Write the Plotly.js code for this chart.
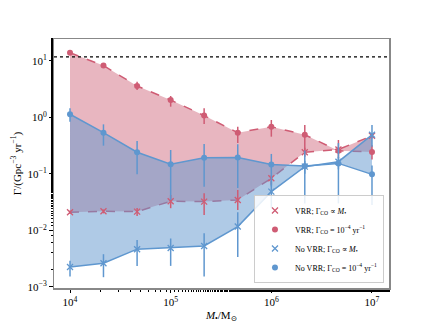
<!DOCTYPE html>
<html>
<head>
<meta charset="utf-8">
<script src="https://cdn.plot.ly/plotly-3.0.1.min.js"></script>
<style>
  html, body { margin: 0; padding: 0; background: #fff; }
  #chart { width: 432px; height: 324px; }
</style>
</head>
<body>
<div id="chart"></div>
<script>
// black hole masses (M_sun)
const masses = [1e4, 2.15e4, 4.64e4, 1e5, 2.15e5, 4.64e5, 1e6, 2.15e6, 4.64e6, 1e7];

// VRR; rate proportional to M
const vrrProp = [0.021, 0.0218, 0.0215, 0.0328, 0.0323, 0.0346, 0.0835, 0.241, 0.27, 0.47];
const vrrPropHi = [0.0225, 0.0235, 0.025, 0.0424, 0.0454, 0.052, 0.095, 0.29, 0.3, 0.52];
const vrrPropLo = [0.0195, 0.020, 0.018, 0.0247, 0.0188, 0.023, 0.064, 0.2, 0.24, 0.42];

// VRR; rate = 1e-4 / yr
const vrrConst = [13.8, 8.2, 3.57, 2.02, 1.07, 0.535, 0.68, 0.49, 0.255, 0.244];
const vrrConstHi = [15.0, 8.8, 4.26, 2.38, 1.44, 0.68, 0.895, 0.73, 0.397, 0.32];
const vrrConstLo = [12.7, 7.6, 3.03, 1.54, 0.76, 0.35, 0.454, 0.244, 0.189, 0.18];

// No VRR; rate proportional to M
const noProp = [0.00226, 0.00263, 0.00466, 0.0049, 0.0053, 0.0117, 0.0485, 0.134, 0.164, 0.49];
const noPropHi = [0.0029, 0.0038, 0.0068, 0.0072, 0.0089, 0.021, 0.075, 0.17, 0.2, 0.73];
const noPropLo = [0.00153, 0.00149, 0.00236, 0.00236, 0.00153, 0.0034, 0.025, 0.1, 0.12, 0.3];

// No VRR; rate = 1e-4 / yr
const noConst = [1.13, 0.535, 0.241, 0.148, 0.193, 0.195, 0.147, 0.138, 0.153, 0.098];
const noConstHi = [1.44, 0.75, 0.381, 0.264, 0.337, 0.335, 0.225, 0.26, 0.35, 0.14];
const noConstLo = [0.835, 0.315, 0.098, 0.0346, 0.059, 0.056, 0.06, 0.03, 0.03, 0.028];

const refLevel = 11.7;

const red = '#cf5c74';
const blue = '#5f97cf';
const font = 'Liberation Serif, DejaVu Serif, serif';

function errBar(vals, hi, lo, color) {
    return {
        type: 'data',
        symmetric: false,
        array: vals.map((v, i) => hi[i] - v),
        arrayminus: vals.map((v, i) => v - lo[i]),
        color: color,
        thickness: 1.5,
        width: 0
    };
}

function lineTrace(vals, color, dash, fill, fillcolor) {
    const t = {
        x: masses, y: vals, type: 'scatter', mode: 'lines',
        line: {color: color, width: 1.5, dash: dash},
        showlegend: false, hoverinfo: 'skip'
    };
    if (fill) { t.fill = fill; t.fillcolor = fillcolor; }
    return t;
}

function pointTrace(vals, hi, lo, color, symbol, name) {
    return {
        x: masses, y: vals, type: 'scatter', mode: 'markers', name: name,
        marker: symbol === 'x-thin'
            ? {symbol: 'x-thin', size: 6, color: color, line: {color: color, width: 1.3}}
            : {symbol: 'circle', size: 6, color: color},
        error_y: errBar(vals, hi, lo, color)
    };
}

const traces = [
    lineTrace(vrrProp, red, 'dash'),
    lineTrace(vrrConst, red, 'dash', 'tonexty', 'rgba(205,93,115,0.45)'),
    lineTrace(noProp, blue, 'solid'),
    lineTrace(noConst, blue, 'solid', 'tonexty', 'rgba(95,150,205,0.5)'),
    pointTrace(vrrProp, vrrPropHi, vrrPropLo, red, 'x-thin', 'VRR; Γ<sub>CO</sub> ∝ <i>M</i><sub>•</sub>'),
    pointTrace(vrrConst, vrrConstHi, vrrConstLo, red, 'circle', 'VRR; Γ<sub>CO</sub> = 10<sup>−4</sup> yr<sup>−1</sup>'),
    pointTrace(noProp, noPropHi, noPropLo, blue, 'x-thin', 'No VRR; Γ<sub>CO</sub> ∝ <i>M</i><sub>•</sub>'),
    pointTrace(noConst, noConstHi, noConstLo, blue, 'circle', 'No VRR; Γ<sub>CO</sub> = 10<sup>−4</sup> yr<sup>−1</sup>')
];

const layout = {
    width: 432, height: 324,
    margin: {l: 54, r: 43, t: 39, b: 36},
    paper_bgcolor: '#fff', plot_bgcolor: '#fff',
    font: {family: font, size: 11, color: '#000'},
    xaxis: {
        type: 'log', range: [3.841, 7.169],
        tickvals: [1e4, 1e5, 1e6, 1e7],
        ticktext: ['10<sup>4</sup>', '10<sup>5</sup>', '10<sup>6</sup>', '10<sup>7</sup>'],
        ticks: 'outside', ticklen: 3.5, tickcolor: '#000',
        minor: {ticks: 'outside', ticklen: 2, tickcolor: '#000'},
        showgrid: false, zeroline: false,
        showline: true, linecolor: '#888', linewidth: 1.5, mirror: true,
        title: {text: '<i>M</i><sub>•</sub>/M<sub>⊙</sub>', font: {size: 11}, standoff: 4}
    },
    yaxis: {
        type: 'log', range: [-3.018, 1.384],
        tickvals: [1e-3, 1e-2, 1e-1, 1, 10],
        ticktext: ['10<sup>−3</sup>', '10<sup>−2</sup>', '10<sup>−1</sup>', '10<sup>0</sup>', '10<sup>1</sup>'],
        ticks: 'outside', ticklen: 3.5, tickcolor: '#000',
        minor: {ticks: 'outside', ticklen: 2, tickcolor: '#000'},
        showgrid: false, zeroline: false,
        showline: true, linecolor: '#888', linewidth: 1.5, mirror: true,
        title: {text: 'Γ/(Gpc<sup>−3</sup> yr<sup>−1</sup>)', font: {size: 11}, standoff: 4}
    },
    shapes: [{
        type: 'line', xref: 'paper', x0: 0, x1: 1, yref: 'y', y0: refLevel, y1: refLevel,
        line: {color: '#000', width: 1.2, dash: 'dot'}
    }],
    legend: {
        x: 0.985, y: 0.02, xanchor: 'right', yanchor: 'bottom',
        traceorder: 'normal',
        bgcolor: 'rgba(255,255,255,0.85)', bordercolor: '#ccc', borderwidth: 1,
        font: {size: 8}, tracegroupgap: 0, itemwidth: 30
    },
    showlegend: true
};

Plotly.newPlot('chart', traces, layout, {displayModeBar: false, staticPlot: true});
</script>
</body>
</html>
